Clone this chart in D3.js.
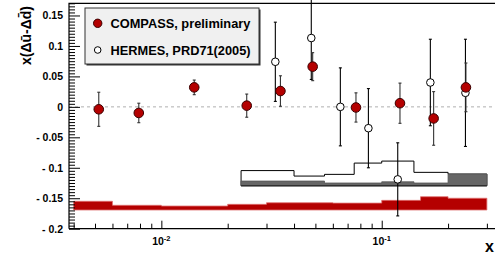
<!DOCTYPE html>
<html><head><meta charset="utf-8">
<script src="https://cdn.jsdelivr.net/npm/d3@7"></script>
<style>body{margin:0;background:#fff}svg{display:block}text{font-family:"Liberation Sans",Arial,Helvetica,sans-serif;font-weight:bold}</style>
</head><body>
<script>
const compassX = [0.0052, 0.0079, 0.0141, 0.0244, 0.0347, 0.0486, 0.0764, 0.121, 0.172, 0.241];
const compassY = [-0.004, -0.010, 0.032, 0.002, 0.026, 0.066, -0.001, 0.006, -0.019, 0.032];
const compassErr = [0.028, 0.016, 0.012, 0.019, 0.025, 0.023, 0.024, 0.033, 0.044, 0.040];
const hermesX = [0.0329, 0.0479, 0.0649, 0.0870, 0.1182, 0.1662, 0.2398];
const hermesY = [0.074, 0.113, 0.000, -0.035, -0.119, 0.040, 0.023];
const hermesErr = [0.065, 0.068, 0.064, 0.065, 0.060, 0.071, 0.088];
const compassSysEdges = [0.004, 0.006, 0.01, 0.02, 0.03, 0.06, 0.1, 0.15, 0.2, 0.3];
const compassSysTop = [-0.155, -0.1616, -0.1628, -0.160, -0.1574, -0.158, -0.1535, -0.1475, -0.150];
const compassSysBase = -0.1693;
const hermesSysEdges = [0.023, 0.04, 0.055, 0.075, 0.1, 0.14, 0.2, 0.3];
const hermesSysOuter = [-0.1046, -0.1136, -0.1108, -0.0923, -0.089, -0.1075, -0.1103];
const hermesSysInner = [-0.1218, -0.1218, -0.125, -0.125, -0.123, -0.125, -0.1103];
const hermesSysBase = -0.1295;
const yMajorTicks = [-0.2, -0.15, -0.1, -0.05, 0, 0.05, 0.1, 0.15];
const xMajorTicks = [0.01, 0.1];
const xTickLabels = [["10", "-2"], ["10", "-1"]];
const legendLabels = ["COMPASS, preliminary", "HERMES, PRD71(2005)"];

const W = 495, H = 257;
const svg = d3.select("body").append("svg").attr("width", W).attr("height", H);
const x = d3.scaleLog().domain([0.00381, 0.33]).range([69, 496]);
const y = d3.scaleLinear().domain([-0.2, 0.17]).range([228.7, 3.3]);

function stepPath(edges, tops, base) {
  const p = d3.path();
  p.moveTo(x(edges[0]), y(base));
  tops.forEach((t, i) => { p.lineTo(x(edges[i]), y(t)); p.lineTo(x(edges[i + 1]), y(t)); });
  p.lineTo(x(edges[edges.length - 1]), y(base));
  p.closePath();
  return p.toString();
}

// HERMES systematic band
svg.append("path").attr("d", stepPath(hermesSysEdges, hermesSysOuter, hermesSysBase))
  .attr("fill", "#fff").attr("stroke", "#000").attr("stroke-width", 1);
svg.append("path").attr("d", stepPath(hermesSysEdges, hermesSysInner, hermesSysBase))
  .attr("fill", "#666").attr("stroke", "#555").attr("stroke-width", 0.8);
svg.append("line").attr("x1", x(hermesSysEdges[0])).attr("x2", x(hermesSysEdges[hermesSysEdges.length - 1]))
  .attr("y1", y(hermesSysBase)).attr("y2", y(hermesSysBase)).attr("stroke", "#222").attr("stroke-width", 1.2);

// COMPASS systematic band
svg.append("path").attr("d", stepPath(compassSysEdges, compassSysTop, compassSysBase))
  .attr("fill", "#b40000").attr("stroke", "#e07070").attr("stroke-width", 0.8);

// zero line
svg.append("line").attr("x1", x.range()[0]).attr("x2", W).attr("y1", y(0)).attr("y2", y(0))
  .attr("stroke", "#b0b0b0").attr("stroke-dasharray", "3,3").attr("stroke-width", 1);

// error bars
function errBars(xs, ys, es, color, cap) {
  const g = svg.append("g").attr("stroke", color).attr("stroke-width", 1.1);
  xs.forEach((xv, i) => {
    const cx = x(xv), y1 = y(ys[i] + es[i]), y2 = y(ys[i] - es[i]);
    g.append("line").attr("x1", cx).attr("x2", cx).attr("y1", y1).attr("y2", y2);
    g.append("line").attr("x1", cx - cap).attr("x2", cx + cap).attr("y1", y1).attr("y2", y1);
    g.append("line").attr("x1", cx - cap).attr("x2", cx + cap).attr("y1", y2).attr("y2", y2);
  });
}
errBars(hermesX, hermesY, hermesErr, "#000", 1.5);
errBars(compassX, compassY, compassErr, "#333", 1.5);

svg.append("g").selectAll("circle").data(hermesX).join("circle")
  .attr("cx", d => x(d)).attr("cy", (d, i) => y(hermesY[i])).attr("r", 3.8)
  .attr("fill", "#fff").attr("stroke", "#000").attr("stroke-width", 1);
svg.append("g").selectAll("circle").data(compassX).join("circle")
  .attr("cx", d => x(d)).attr("cy", (d, i) => y(compassY[i])).attr("r", 4.8)
  .attr("fill", "#b40000").attr("stroke", "#3a0000").attr("stroke-width", 1);

// axes
const fmtAbs = d3.format("~g");
const yAxis = d3.axisLeft(y).tickValues(yMajorTicks).tickSizeInner(-11).tickSizeOuter(0).tickPadding(6)
  .tickFormat(d => d === 0 ? "0" : (d < 0 ? "- " + fmtAbs(-d) : fmtAbs(d)));
const gy = svg.append("g").attr("transform", `translate(${x.range()[0]},0)`).call(yAxis);
gy.select(".domain").remove();
gy.selectAll("text").attr("font-size", 10.5).attr("fill", "#000");
const yMinor = d3.range(-0.2, 0.1701, 0.005).map(v => +v.toFixed(3)).filter(v => !yMajorTicks.some(m => Math.abs(m - v) < 1e-6));
const gym = svg.append("g").attr("transform", `translate(${x.range()[0]},0)`)
  .call(d3.axisLeft(y).tickValues(yMinor).tickSizeInner(-6).tickSizeOuter(0).tickFormat(""));
gym.select(".domain").remove();

const xAxis = d3.axisBottom(x).tickValues(xMajorTicks).tickSizeInner(-8).tickSizeOuter(0).tickPadding(6).tickFormat("");
const gx = svg.append("g").attr("transform", `translate(0,${y.range()[0]})`).call(xAxis);
gx.select(".domain").remove();
const xMinor = [];
[0.001, 0.01, 0.1].forEach(dec => { for (let k = 2; k <= 9; k++) { const v = dec * k; if (v >= x.domain()[0] && v <= x.domain()[1]) xMinor.push(v); } });
const gxm = svg.append("g").attr("transform", `translate(0,${y.range()[0]})`)
  .call(d3.axisBottom(x).tickValues(xMinor).tickSizeInner(-5).tickSizeOuter(0).tickFormat(""));
gxm.select(".domain").remove();
xMajorTicks.forEach((v, i) => {
  const t = svg.append("text").attr("x", x(v)).attr("y", 245).attr("text-anchor", "middle").attr("font-size", 10.5);
  t.append("tspan").text(xTickLabels[i][0]);
  t.append("tspan").attr("dy", -4).attr("font-size", 7.5).text(xTickLabels[i][1]);
});

// frame
svg.append("path").attr("d", `M${x.range()[0]},${y.range()[0]}V${y.range()[1]}H${W + 2}M${x.range()[0]},${y.range()[0]}H${W + 2}`)
  .attr("fill", "none").attr("stroke", "#000").attr("stroke-width", 1.2);

// axis titles
svg.append("text").attr("x", 494).attr("y", 251.5).attr("text-anchor", "end").attr("font-size", 16).text("x");
svg.append("text").attr("transform", "translate(31,6) rotate(-90)").attr("text-anchor", "end").attr("font-size", 14)
  .text("x(\u0394\u016B-\u0394d\u0304)");

// legend
const lg = svg.append("g");
lg.append("rect").attr("x", 86.5).attr("y", 9.5).attr("width", 174).attr("height", 56).attr("fill", "#333");
lg.append("rect").attr("x", 85).attr("y", 8).attr("width", 174).attr("height", 56).attr("fill", "#f0f0f0").attr("stroke", "#333").attr("stroke-width", 1);
lg.append("circle").attr("cx", 97.7).attr("cy", 23.3).attr("r", 4.2).attr("fill", "#b40000").attr("stroke", "#3a0000");
lg.append("circle").attr("cx", 97.7).attr("cy", 50).attr("r", 3.3).attr("fill", "#fff").attr("stroke", "#000");
lg.append("text").attr("x", 110.5).attr("y", 27.8).attr("font-size", 12.8).text(legendLabels[0]);
lg.append("text").attr("x", 110.5).attr("y", 54.5).attr("font-size", 12.8).text(legendLabels[1]);
</script>
</body></html>
